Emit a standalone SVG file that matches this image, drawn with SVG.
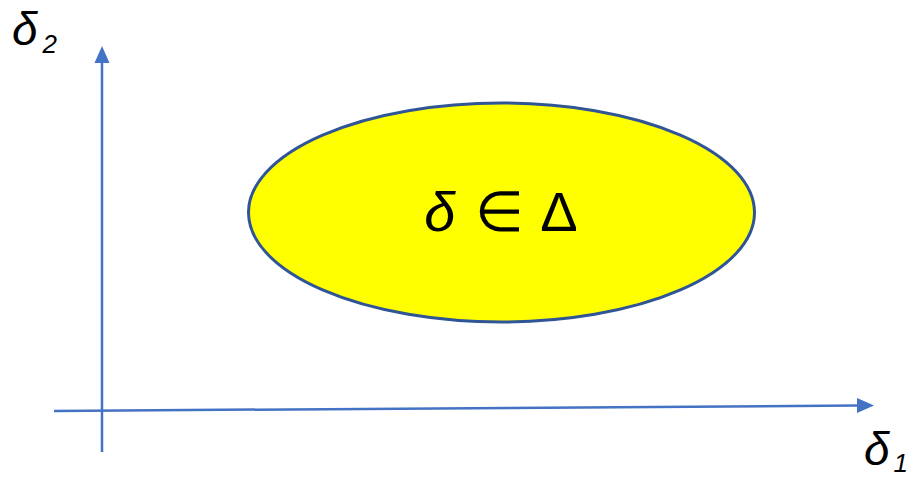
<svg xmlns="http://www.w3.org/2000/svg" width="918" height="478" viewBox="0 0 918 478">
<style>
.axis{stroke:#4472C4;stroke-width:2.5;fill:none}
.head{fill:#4472C4}
.lbl{font-family:"Liberation Sans",Arial,sans-serif;fill:#000}
</style>
<rect width="918" height="478" fill="#fff"/>
<g id="connectors">
<line class="axis" x1="102" y1="452" x2="102" y2="62"/>
<polygon class="head" points="102,46 94.5,63 109.5,63"/>
<line class="axis" x1="54" y1="411" x2="858" y2="405.5"/>
<polygon class="head" points="874,405.5 857,398 857,413"/>
</g>
<g id="set">
<ellipse cx="501.5" cy="212.5" rx="253" ry="109.5" fill="#FFFF00" stroke="#2F5597" stroke-width="3"/>
<text class="lbl" x="501" y="231" font-size="56" text-anchor="middle" word-spacing="4"><tspan font-style="italic">δ</tspan> ∈ Δ</text>
</g>
<g id="label-d2">
<text class="lbl" x="12" y="45" font-size="46" font-style="italic">δ<tspan font-size="26" dx="5" dy="8">2</tspan></text>
</g>
<g id="label-d1">
<text class="lbl" x="864" y="465" font-size="46" font-style="italic">δ<tspan font-size="26" dx="4" dy="7">1</tspan></text>
</g>
</svg>
